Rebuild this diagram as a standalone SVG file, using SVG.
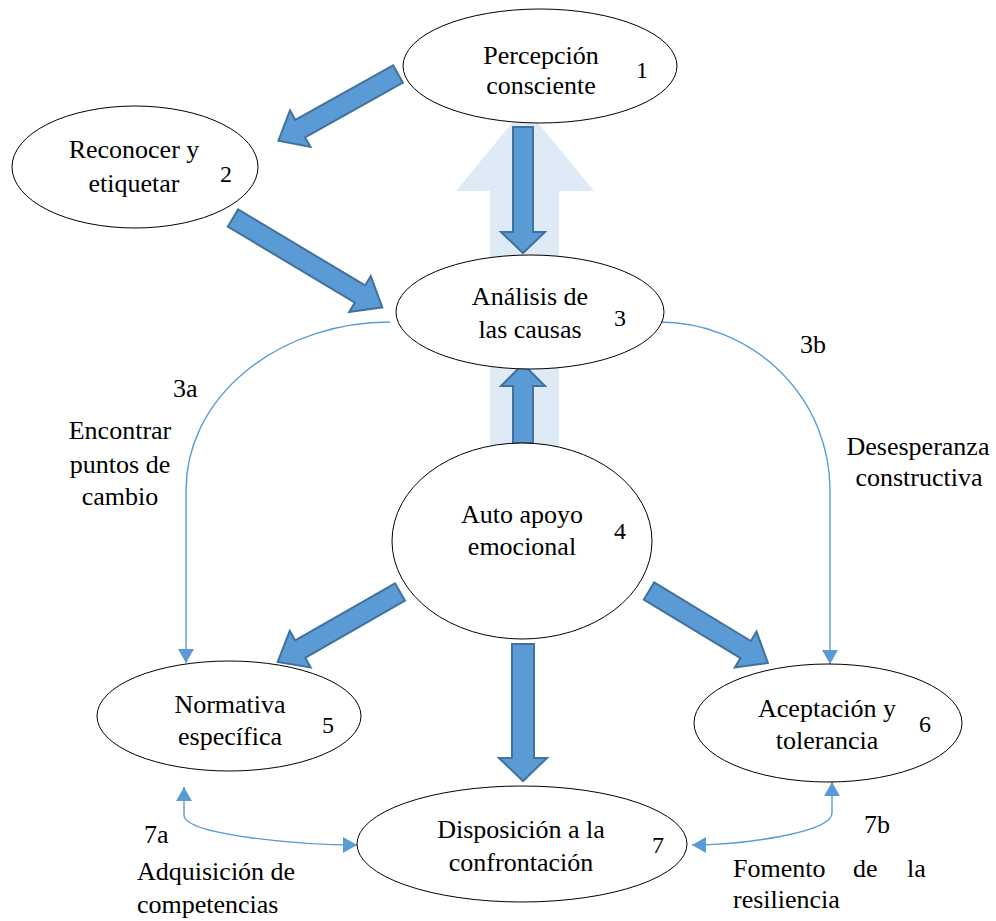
<svg xmlns="http://www.w3.org/2000/svg" width="996" height="921" viewBox="0 0 996 921">
<defs>
<style>
.node{fill:#fff;stroke:#000;stroke-width:1}
.t{font-family:"Liberation Serif","Times New Roman",serif;font-size:26px;fill:#000;text-anchor:middle}
.n{font-family:"Liberation Serif","Times New Roman",serif;font-size:24px;fill:#000;text-anchor:middle}
.l{font-family:"Liberation Serif","Times New Roman",serif;font-size:26px;fill:#000}
.blk{fill:#5B9BD5;stroke:#41719C;stroke-width:2;stroke-linejoin:miter}
.thin{fill:none;stroke:#5B9BD5;stroke-width:1.4}
</style>
<marker id="ah" markerUnits="userSpaceOnUse" markerWidth="16" markerHeight="16" viewBox="0 0 14 16" refX="14" refY="8" orient="auto-start-reverse">
<path d="M0,0 L14,8 L0,16 Z" fill="#5B9BD5"/>
</marker>
</defs>
<rect width="996" height="921" fill="#fff"/>
<g id="connectors">
<path d="M490,460 V191 H456 L525,107 L594,191 H559 V460 Z" fill="#DEEAF6"/>
<path class="blk" transform="translate(398,74) rotate(150.8)" d="M0,-10 H112 V-21 L137,0 L112,21 V10 H0 Z"/>
<path class="blk" transform="translate(233,218) rotate(30.9)" d="M0,-10 H148 V-21 L174,0 L148,21 V10 H0 Z"/>
<path class="blk" transform="translate(400,592) rotate(150.2)" d="M0,-10 H115 V-21 L141,0 L115,21 V10 H0 Z"/>
<path class="blk" transform="translate(649,591) rotate(31.2)" d="M0,-10 H113 V-21 L139,0 L113,21 V10 H0 Z"/>
<path class="blk" d="M513,127 H533 V232 H545 L523,253 L501,232 H513 Z"/>
<path class="blk" d="M513,443 H533 V386 H545 L523,364 L501,386 H513 Z"/>
<path class="blk" d="M512,644 H534 V758 H547 L523,781 L499,758 H512 Z"/>
<path class="thin" d="M390,322 A204,168 0 0 0 186,490 L186,663" marker-end="url(#ah)"/>
<path class="thin" d="M659,322 A171,168 0 0 1 830,490 L830,664" marker-end="url(#ah)"/>
<path class="thin" d="M184,787 V815 C184,835 300,845 357,845" marker-start="url(#ah)" marker-end="url(#ah)"/>
<path class="thin" d="M832,782 V813 C832,833 740,845 692,845" marker-start="url(#ah)" marker-end="url(#ah)"/>
</g>
<g id="node1">
<ellipse class="node" cx="540" cy="66" rx="137" ry="57"/>
<text class="t" x="541" y="64">Percepción</text>
<text class="t" x="541" y="94">consciente</text>
<text class="n" x="642" y="78">1</text>
</g>
<g id="node2">
<ellipse class="node" cx="135" cy="167" rx="123" ry="61"/>
<text class="t" x="134" y="158">Reconocer y</text>
<text class="t" x="134" y="192">etiquetar</text>
<text class="n" x="226" y="182">2</text>
</g>
<g id="node3">
<ellipse class="node" cx="530" cy="312" rx="134" ry="57"/>
<text class="t" x="530" y="305">Análisis de</text>
<text class="t" x="530" y="338">las causas</text>
<text class="n" x="620" y="326">3</text>
</g>
<g id="node4">
<ellipse class="node" cx="522" cy="541" rx="130" ry="98"/>
<text class="t" x="522" y="523">Auto apoyo</text>
<text class="t" x="522" y="555">emocional</text>
<text class="n" x="620" y="539">4</text>
</g>
<g id="node5">
<ellipse class="node" cx="229" cy="716" rx="132" ry="55"/>
<text class="t" x="230" y="713">Normativa</text>
<text class="t" x="230" y="745">específica</text>
<text class="n" x="328" y="733">5</text>
</g>
<g id="node6">
<ellipse class="node" cx="828" cy="723" rx="134" ry="59"/>
<text class="t" x="827" y="717">Aceptación y</text>
<text class="t" x="827" y="749">tolerancia</text>
<text class="n" x="925" y="732">6</text>
</g>
<g id="node7">
<ellipse class="node" cx="522" cy="844" rx="165" ry="58"/>
<text class="t" x="521" y="838">Disposición a la</text>
<text class="t" x="521" y="871">confrontación</text>
<text class="n" x="658" y="853">7</text>
</g>
<g id="labels">
<text class="l" x="173" y="397">3a</text>
<text class="t" x="120" y="439">Encontrar</text>
<text class="t" x="120" y="473">puntos de</text>
<text class="t" x="120" y="505">cambio</text>
<text class="l" x="800" y="353">3b</text>
<text class="t" x="918" y="455">Desesperanza</text>
<text class="t" x="919" y="486">constructiva</text>
<text class="l" x="144" y="843">7a</text>
<text class="l" x="137" y="880">Adquisición de</text>
<text class="l" x="137" y="913">competencias</text>
<text class="l" x="864" y="833">7b</text>
<text class="l" x="733" y="877">Fomento<tspan x="853">de</tspan><tspan x="907">la</tspan></text>
<text class="l" x="733" y="908">resiliencia</text>
</g>
</svg>
